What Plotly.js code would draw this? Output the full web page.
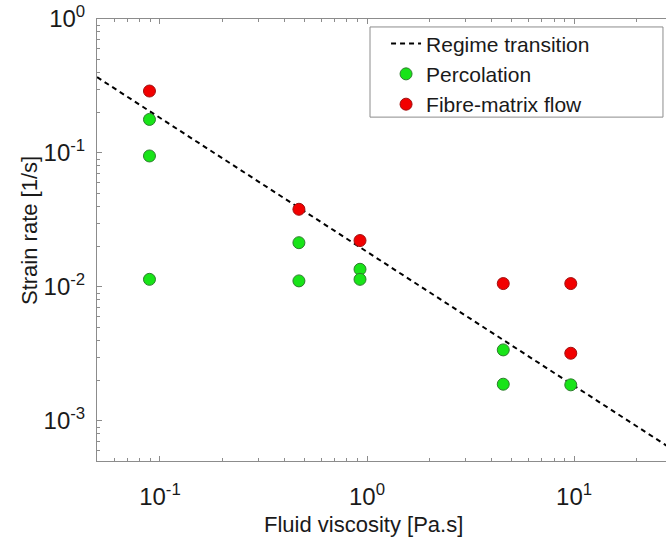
<!DOCTYPE html>
<html>
<head>
<meta charset="utf-8">
<script src="https://cdn.plot.ly/plotly-3.0.1.min.js"></script>
<style>html,body{margin:0;padding:0;background:#fff;}#chart{width:666px;height:540px;}</style>
</head>
<body>
<div id="chart"></div>
<script>
// Regime transition line (strain rate ~ C / viscosity)
const lineX = [0.0497, 30];
const lineY = [0.368, 0.00061];

// Percolation points
const percX = [0.089, 0.089, 0.089, 0.469, 0.469, 0.925, 0.925, 4.55, 4.55, 9.64];
const percY = [0.178, 0.095, 0.0114, 0.0214, 0.0111, 0.01355, 0.0114, 0.00339, 0.00188, 0.00186];

// Fibre-matrix flow points
const fibreX = [0.089, 0.469, 0.925, 4.55, 9.64, 9.64];
const fibreY = [0.29, 0.038, 0.0222, 0.0106, 0.0106, 0.0032];

// Ticks
const xTickVals = [0.1, 1, 10];
const xTickText = ['10<sup>-1</sup>', '10<sup>0</sup>', '10<sup>1</sup>'];
const yTickVals = [0.001, 0.01, 0.1, 1];
const yTickText = ['10<sup>-3</sup>', '10<sup>-2</sup>', '10<sup>-1</sup>', '10<sup>0</sup>'];
const minorDecades = [0.0001, 0.001, 0.01, 0.1, 1, 10];
const minorDigits = [2, 3, 4, 5, 6, 7, 8, 9];

const minorVals = [];
minorDecades.forEach(d => minorDigits.forEach(k => minorVals.push(d * k)));

const FONT = 'Liberation Sans, Arial, sans-serif';
const AX = '#8c8c8c';
const TXT = '#1a1a1a';

const traces = [
  {x: lineX, y: lineY, mode: 'lines', name: 'Regime transition',
   line: {color: '#000', width: 2, dash: '5px,4px'}},
  {x: percX, y: percY, mode: 'markers', name: 'Percolation',
   marker: {color: '#18e418', size: 12, line: {color: '#2e7d2e', width: 1}}},
  {x: fibreX, y: fibreY, mode: 'markers', name: 'Fibre-matrix flow',
   marker: {color: '#f20000', size: 12, line: {color: '#a01010', width: 1}}}
];

const axCommon = {
  type: 'log', showgrid: false, zeroline: false,
  showline: true, linecolor: AX, linewidth: 1,
  ticks: 'inside', ticklen: 5, tickcolor: AX,
  tickmode: 'array',
  tickfont: {family: FONT, size: 24, color: TXT},
  minor: {tickmode: 'array', tickvals: minorVals, ticks: 'inside', ticklen: 3, tickcolor: AX, showgrid: false}
};

const layout = {
  width: 666, height: 540,
  margin: {l: 97, r: 0, t: 19, b: 79},
  paper_bgcolor: '#fff', plot_bgcolor: '#fff',
  font: {family: FONT, color: TXT},
  showlegend: true,
  xaxis: Object.assign({}, axCommon, {
    range: [-1.304, 1.444],
    mirror: 'ticks',
    tickvals: xTickVals, ticktext: xTickText,
    ticklabelstandoff: 14
  }),
  yaxis: Object.assign({}, axCommon, {
    range: [-3.299, 0],
    mirror: false,
    tickvals: yTickVals, ticktext: yTickText,
    ticklabelstandoff: 6
  }),
  annotations: [
    {text: 'Fluid viscosity [Pa.s]', xref: 'paper', yref: 'paper',
     x: (363 - 97) / 569, y: (461 - 524) / 442, xanchor: 'center', yanchor: 'middle',
     showarrow: false, font: {family: FONT, size: 22, color: TXT}},
    {text: 'Strain rate [1/s]', xref: 'paper', yref: 'paper', textangle: -90,
     x: (30 - 97) / 569, y: (461 - 231) / 442, xanchor: 'center', yanchor: 'middle',
     showarrow: false, font: {family: FONT, size: 22, color: TXT}}
  ],
  legend: {
    x: 0.508, y: 0.99, xanchor: 'left', yanchor: 'top',
    bgcolor: 'rgba(0,0,0,0)', borderwidth: 0,
    font: {family: FONT, size: 21, color: TXT},
    itemwidth: 30
  },
  shapes: [{
    type: 'rect', xref: 'paper', yref: 'paper',
    x0: 0.4798, x1: 0.9947, y0: 0.778, y1: 0.982,
    line: {color: AX, width: 1}, fillcolor: '#fff', layer: 'below'
  }]
};

Plotly.newPlot('chart', traces, layout, {displayModeBar: false, staticPlot: true});
</script>
</body>
</html>
